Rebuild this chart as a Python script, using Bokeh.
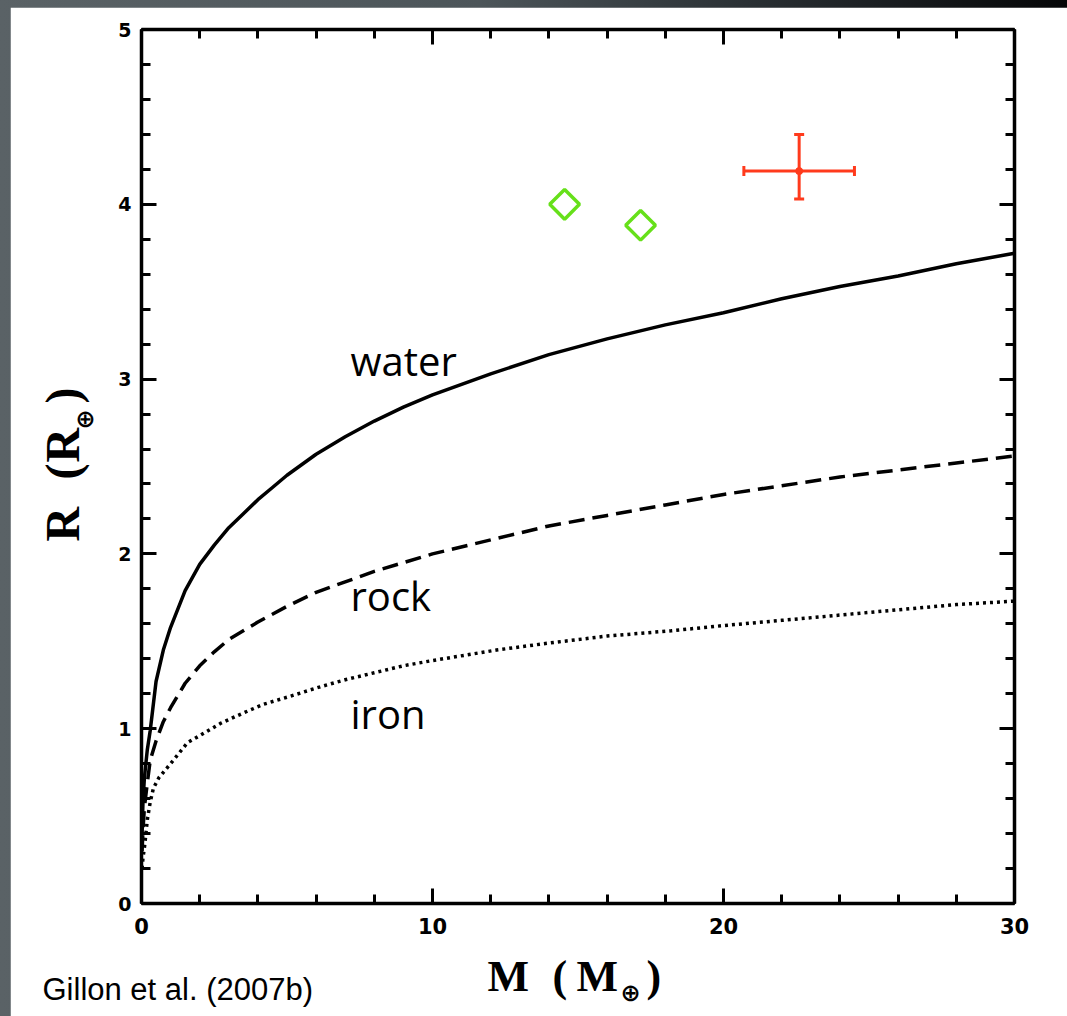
import numpy as np
from bokeh.plotting import figure
from bokeh.models import (LinearAxis, SingleIntervalTicker, Label, Whisker,
                          ColumnDataSource, Range1d, TeeHead)
from bokeh.core.properties import value
from bokeh.layouts import column
from bokeh.embed import file_html
from bokeh.resources import INLINE

# Mass-radius relations (Earth units) for pure compositions
water_mass = [0.02, 0.05, 0.1, 0.2, 0.3, 0.5, 0.75, 1.0, 1.5, 2.0, 2.5, 3.0, 3.5, 4.0, 4.5, 5.0, 6.0, 7.0, 8.0, 9.0,
              10.0, 12.0, 14.0, 16.0, 18.0, 20.0, 22.0, 24.0, 26.0, 28.0, 30.0]
water_radius = [0.40, 0.58, 0.72, 0.88, 0.99, 1.27, 1.45, 1.58, 1.79, 1.94, 2.05, 2.15, 2.23, 2.31, 2.38, 2.45, 2.57, 2.67, 2.76, 2.84,
                2.91, 3.03, 3.14, 3.23, 3.31, 3.38, 3.46, 3.53, 3.59, 3.66, 3.72]

rock_mass = [0.02, 0.05, 0.1, 0.2, 0.3, 0.5, 0.75, 1.0, 1.5, 2.0, 2.5, 3.0, 4.0, 5.0, 6.0, 7.0, 8.0, 9.0,
             10.0, 12.0, 14.0, 16.0, 18.0, 20.0, 22.0, 24.0, 26.0, 28.0, 30.0]
rock_radius = [0.30, 0.42, 0.55, 0.69, 0.82, 0.93, 1.04, 1.12, 1.26, 1.36, 1.44, 1.51, 1.61, 1.70, 1.78, 1.84, 1.90, 1.95,
               2.00, 2.08, 2.16, 2.22, 2.28, 2.34, 2.39, 2.44, 2.48, 2.52, 2.56]

iron_mass = [0.02, 0.05, 0.1, 0.14, 0.2, 0.3, 0.41, 0.6, 1.0, 1.58, 2.0, 2.71, 3.5, 4.2, 5.0, 6.15, 7.0, 8.0, 9.0,
             10.0, 12.2, 14.0, 16.0, 18.2, 20.0, 22.0, 24.0, 26.0, 28.0, 30.0]
iron_radius = [0.20, 0.26, 0.32, 0.38, 0.48, 0.58, 0.66, 0.72, 0.80, 0.92, 0.96, 1.03, 1.09, 1.14, 1.18, 1.24, 1.28, 1.32, 1.36,
               1.39, 1.45, 1.49, 1.53, 1.56, 1.59, 1.62, 1.65, 1.68, 1.71, 1.73]

# Uranus and Neptune
giant_mass = [14.54, 17.15]
giant_radius = [4.00, 3.88]

# GJ 436b with uncertainties
planet_mass = [22.6]
planet_mass_lo = [20.7]
planet_mass_hi = [24.5]
planet_radius = [4.19]
planet_radius_lo = [4.03]
planet_radius_hi = [4.40]

RED = "#ff3a1c"
GREEN = "#66e01a"

p = figure(width=1057, height=1009, output_backend="svg", toolbar_location=None,
           x_range=Range1d(0, 30), y_range=Range1d(0, 5),
           min_border_left=131, min_border_top=22, min_border_right=53,
           min_border_bottom=113, x_axis_location=None, y_axis_location=None,
           background_fill_color="white", border_fill_color="white",
           outline_line_color=None, margin=(7, 0, 0, 10))
p.grid.visible = False


def style_axis(ax, show_labels, font_size):
    ax.axis_line_width = 3.5
    ax.axis_line_color = "black"
    ax.major_tick_in = 15
    ax.major_tick_out = 0
    ax.minor_tick_in = 9
    ax.minor_tick_out = 0
    ax.major_tick_line_width = 3
    ax.minor_tick_line_width = 3
    ax.major_label_text_font = "DejaVu Sans"
    ax.major_label_text_font_style = "bold"
    ax.major_label_text_color = "black" if show_labels else None
    ax.major_label_text_font_size = font_size if show_labels else "0px"


x_tick = SingleIntervalTicker(interval=10, num_minor_ticks=5)
y_tick = SingleIntervalTicker(interval=1, num_minor_ticks=5)

xb = LinearAxis(ticker=x_tick)
style_axis(xb, True, "21px")
xb.major_label_standoff = 14
p.add_layout(xb, "below")

xt = LinearAxis(ticker=x_tick)
style_axis(xt, False, "0px")
xt.major_label_standoff = 0
p.add_layout(xt, "above")

yl = LinearAxis(ticker=y_tick)
style_axis(yl, True, "19px")
yl.major_label_standoff = 10
p.add_layout(yl, "left")

yr = LinearAxis(ticker=y_tick)
style_axis(yr, False, "0px")
yr.major_label_standoff = 0
p.add_layout(yr, "right")

# model curves
p.line(water_mass, water_radius, line_color="black", line_width=3.5)
p.line(rock_mass, rock_radius, line_color="black", line_width=3.5, line_dash="16 8")
p.line(iron_mass, iron_radius, line_color="black", line_width=3.5, line_dash="3 4")

# solar-system ice giants
p.scatter(giant_mass, giant_radius, marker="square", angle=np.pi / 4, size=21,
          fill_color=None, line_color=GREEN, line_width=3.5)

# transiting planet with error bars
src = ColumnDataSource(dict(m=planet_mass, m_lo=planet_mass_lo, m_hi=planet_mass_hi,
                            r=planet_radius, r_lo=planet_radius_lo, r_hi=planet_radius_hi))


def tee():
    return TeeHead(size=10, line_color=RED, line_width=3)


p.add_layout(Whisker(source=src, base="r", lower="m_lo", upper="m_hi", dimension="width",
                     line_color=RED, line_width=3, lower_head=tee(), upper_head=tee()))
p.add_layout(Whisker(source=src, base="m", lower="r_lo", upper="r_hi", dimension="height",
                     line_color=RED, line_width=3, lower_head=tee(), upper_head=tee()))
p.scatter("m", "r", source=src, size=7, color=RED)


# helpers: place text by pixel position on the canvas
def dx(px):
    return (px - 141) / 29.1


def dy(py):
    return (903 - py) / 174.8


def add_label(text, px, py, size, font, style="normal"):
    p.add_layout(Label(x=dx(px), y=dy(py), text=text, text_font=font,
                       text_font_size=size, text_font_style=style,
                       text_color="black", text_align="left",
                       text_baseline="alphabetic"))


def add_outer_text(text, px, py, size, font, style="normal", angle=0.0):
    # drawn on the overlay level so it can sit in the border area
    p.text(x=[dx(px)], y=[dy(py)], text=[text], text_font=value(font),
           text_font_size=size, text_font_style=style, text_color="black",
           angle=angle, text_align="left", text_baseline="alphabetic", level="overlay")


# curve names
add_label("water", 350, 360, "40px", "Open Sans")
add_label("rock", 350, 595, "40px", "Open Sans")
add_label("iron", 350, 713, "40px", "Open Sans")

SERIF = "Liberation Serif"
SYM = "DejaVu Sans"

# x-axis title: M (M_earth)
add_outer_text("M", 487, 976, "44px", SERIF, "bold")
add_outer_text("(", 552, 976, "44px", SERIF, "bold")
add_outer_text("M", 576, 976, "44px", SERIF, "bold")
add_outer_text("\u2295", 620, 992, "24px", SYM, "bold")
add_outer_text(")", 646, 976, "44px", SERIF, "bold")

# y-axis title: R (R_earth), reading upwards
up = np.pi / 2
add_outer_text("R", 62, 541, "48px", SERIF, "bold", up)
add_outer_text("(", 62, 479, "48px", SERIF, "bold", up)
add_outer_text("R", 62, 462, "48px", SERIF, "bold", up)
add_outer_text("\u2295", 84, 429, "24px", SYM, "bold", up)
add_outer_text(")", 62, 403, "48px", SERIF, "bold", up)

# citation
add_outer_text("Gillon et al. (2007b)", 42, 989, "31px", "Liberation Sans")

page = column(p, width=1067, height=1016,
              styles={"background": "linear-gradient(90deg, #5a6266 0%, #4c5559 45%, #2a3034 70%, #050607 100%)"})

open("out.html", "w").write(file_html(page, INLINE))
